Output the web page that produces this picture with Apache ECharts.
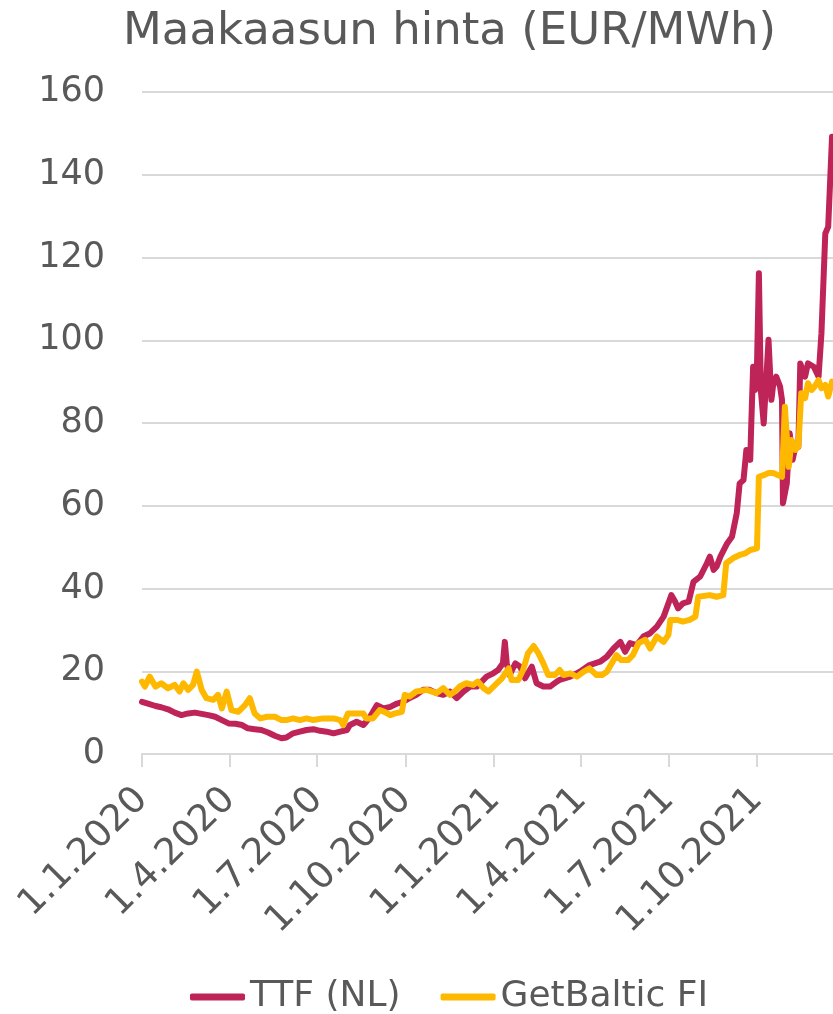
<!DOCTYPE html>
<html>
<head>
<meta charset="utf-8">
<script src="https://cdn.jsdelivr.net/npm/echarts@6/dist/echarts.min.js"></script>
<style>
  html, body { margin: 0; padding: 0; background: #fff; }
  #chart { width: 833px; height: 1014px; }
</style>
</head>
<body>
<div id="chart"></div>
<script>
// päivät 1.1.2020 alkaen ja hinnat (EUR/MWh), luettu kuvasta
const ttfDays = [0, 7, 14, 20, 27, 34, 41, 48, 55, 62, 69, 76, 83, 90, 97, 104, 110, 117, 124, 131,
  138, 145, 150, 157, 164, 171, 178, 185, 192, 199, 206, 213, 216, 223, 230, 233, 237, 244, 251, 258,
  265, 271, 278, 285, 292, 299, 306, 313, 320, 327, 334, 341, 348, 353, 358, 365, 370, 375, 377, 379,
  382, 388, 393, 398, 405, 410, 417, 424, 431, 434, 445, 455, 465, 476, 483, 490, 497, 502, 507, 514,
  521, 528, 535, 542, 547, 550, 554, 557, 562, 568, 573, 580, 587, 590, 594, 597, 601, 608, 613, 618,
  621, 625, 628, 632, 633, 635, 637, 639, 641, 643, 646, 648, 651, 654, 656, 659, 663, 665, 666, 670,
  673, 676, 679, 682, 684, 689, 692, 698, 703, 706, 710, 713, 717];
const ttfValues = [12.6, 12.1, 11.6, 11.3, 10.8, 10.0, 9.4, 9.8, 10.0, 9.7, 9.4, 9.0, 8.2, 7.4, 7.3, 7.0, 6.2, 6.0, 5.8, 5.2,
  4.4, 3.8, 4.0, 5.0, 5.4, 5.8, 6.0, 5.6, 5.4, 5.0, 5.4, 5.8, 7.0, 7.8, 7.0, 7.8, 9.0, 11.8, 11.0, 11.4,
  12.2, 12.6, 13.5, 14.3, 15.5, 15.5, 14.7, 14.3, 15.1, 13.5, 15.1, 16.3, 16.3, 17.5, 18.7, 19.5, 20.3, 21.9, 27.1, 21.9,
  19.1, 21.9, 21.1, 18.3, 21.1, 17.1, 16.3, 16.3, 17.5, 17.9, 18.7, 19.9, 21.5, 22.3, 23.5, 25.5, 27.1, 24.7, 26.8, 26.3,
  28.4, 29.2, 30.8, 33.2, 36.4, 38.4, 36.8, 35.2, 36.4, 36.8, 41.6, 42.9, 46.1, 47.7, 44.5, 45.3, 47.7, 50.9, 52.5, 58.2,
  65.4, 66.2, 73.5, 71.1, 79.1, 93.6, 88.0, 93.6, 116.2, 88.0, 79.9, 88.0, 100.1, 85.6, 89.6, 91.2, 88.8, 85.6, 60.6, 65.4,
  77.5, 71.1, 74.3, 74.3, 94.4, 91.2, 94.4, 93.6, 91.2, 101.7, 125.8, 127.4, 149.2];

const gbDays = [0, 3, 8, 14, 20, 27, 34, 39, 43, 48, 53, 57, 62, 67, 74, 79, 83, 88, 93, 100,
  107, 112, 117, 123, 130, 138, 145, 150, 157, 164, 171, 178, 188, 199, 206, 209, 214, 223, 230, 233,
  240, 247, 252, 258, 263, 270, 273, 278, 285, 296, 306, 313, 320, 325, 330, 337, 344, 349, 355, 360,
  367, 374, 381, 384, 391, 396, 401, 407, 412, 417, 422, 429, 434, 438, 445, 452, 459, 465, 472, 478,
  483, 488, 493, 498, 505, 510, 516, 523, 528, 535, 542, 547, 549, 556, 562, 569, 575, 578, 590, 597,
  604, 607, 614, 621, 627, 632, 639, 641, 646, 651, 656, 661, 665, 668, 672, 675, 679, 682, 685, 689,
  692, 696, 699, 703, 706, 710, 713, 717];
const gbValues = [17.5, 16.3, 18.7, 16.3, 17.1, 15.9, 16.7, 15.1, 17.1, 15.5, 16.7, 19.9, 15.5, 13.5, 13.1, 14.3, 11.0, 15.1, 10.6, 10.2,
  11.8, 13.5, 9.8, 8.6, 9.0, 9.0, 8.2, 8.2, 8.6, 8.2, 8.6, 8.2, 8.6, 8.6, 8.2, 7.0, 9.8, 9.8, 9.8, 8.6,
  8.6, 10.6, 10.2, 9.4, 9.8, 10.2, 14.3, 13.9, 15.1, 15.5, 14.7, 15.9, 14.3, 15.1, 16.3, 17.1, 16.7, 17.5, 15.9, 15.1,
  16.7, 18.3, 20.7, 17.9, 17.9, 20.3, 24.3, 26.1, 24.3, 21.9, 19.1, 19.1, 20.3, 19.1, 19.5, 18.7, 19.9, 20.7, 19.1, 19.1,
  19.9, 21.9, 23.9, 22.7, 22.7, 23.9, 26.8, 27.6, 25.5, 28.4, 27.1, 28.8, 32.4, 32.4, 32.0, 32.4, 33.2, 38.0, 38.4, 38.0,
  38.4, 46.1, 47.3, 48.1, 48.5, 49.3, 49.7, 67.0, 67.4, 67.9, 67.9, 67.4, 67.0, 83.9, 69.4, 75.9, 73.5, 74.3, 87.2, 86.0,
  89.6, 88.0, 88.8, 90.4, 88.4, 89.2, 86.4, 90.0];

// akselin merkinnät: vuosineljännesten alut
const tickDates = ['2020-01-01', '2020-04-01', '2020-07-01', '2020-10-01',
  '2021-01-01', '2021-04-01', '2021-07-01', '2021-10-01'];

const seriesNames = ['TTF (NL)', 'GetBaltic FI'];
const colors = ['#BE2458', '#FFB800'];

const DAY = 86400000;
const start = Date.UTC(2020, 0, 1);
function toData(days, values) {
    return days.map((d, i) => [start + d * DAY, values[i]]);
}
const tickValues = tickDates.map(s => Date.parse(s + 'T00:00:00Z'));

const font = 'DejaVu Sans, Verdana, sans-serif';
const textColor = '#595959';

var chart = echarts.init(document.getElementById('chart'));

var option = {
    animation: false,
    title: {
        text: 'Maakaasun hinta (EUR/MWh)',
        left: 118,
        top: 5,
        textStyle: { fontFamily: font, fontSize: 45, fontWeight: 'normal', color: textColor }
    },
    legend: {
        bottom: -6,
        left: 185,
        itemWidth: 55,
        itemHeight: 7,
        itemGap: 40,
        icon: 'roundRect',
        textStyle: { fontFamily: font, fontSize: 36, color: textColor }
    },
    grid: {
        left: 142,
        right: 0,
        top: 92,
        bottom: 260
    },
    xAxis: {
        type: 'value',
        min: start,
        max: start + 718 * DAY,
        axisLine: { lineStyle: { color: '#D9D9D9', width: 2 } },
        axisTick: {
            show: true,
            customValues: tickValues,
            length: 13,
            lineStyle: { color: '#D9D9D9', width: 2 }
        },
        axisLabel: {
            customValues: tickValues,
            rotate: 45,
            margin: 40,
            fontFamily: font,
            fontSize: 37,
            color: textColor,
            formatter: function (v) {
                const d = new Date(v);
                return d.getUTCDate() + '.' + (d.getUTCMonth() + 1) + '.' + d.getUTCFullYear();
            }
        },
        splitLine: { show: false }
    },
    yAxis: {
        type: 'value',
        min: 0,
        max: 160,
        interval: 20,
        axisLine: { show: false },
        axisTick: { show: false },
        axisLabel: { margin: 37, fontFamily: font, fontSize: 35, color: textColor },
        splitLine: { lineStyle: { color: '#D9D9D9', width: 2 } }
    },
    series: [
        {
            name: seriesNames[0],
            type: 'line',
            data: toData(ttfDays, ttfValues),
            showSymbol: false,
            symbol: 'none',
            color: colors[0],
            lineStyle: { width: 6, color: colors[0], join: 'round', cap: 'round' }
        },
        {
            name: seriesNames[1],
            type: 'line',
            data: toData(gbDays, gbValues),
            showSymbol: false,
            symbol: 'none',
            color: colors[1],
            lineStyle: { width: 6, color: colors[1], join: 'round', cap: 'round' }
        }
    ]
};

chart.setOption(option);
</script>
</body>
</html>
